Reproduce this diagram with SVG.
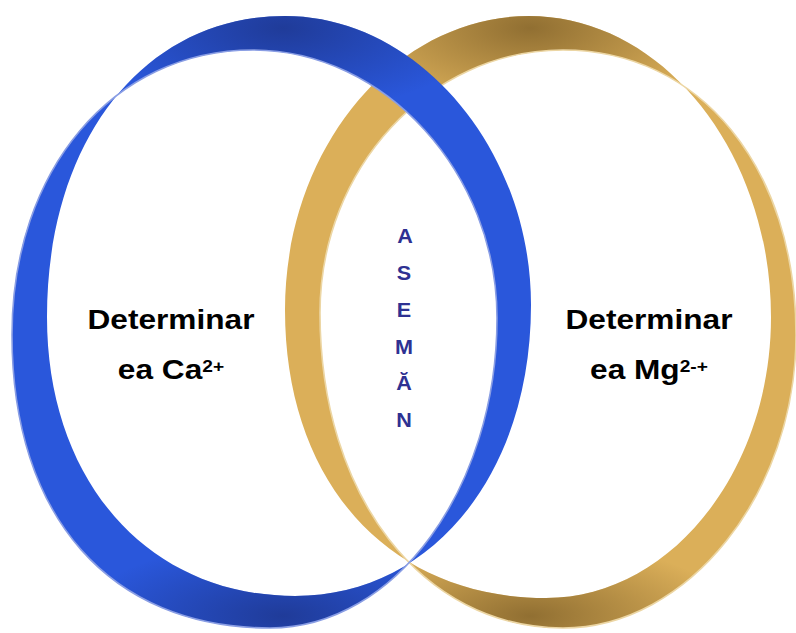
<svg xmlns="http://www.w3.org/2000/svg" width="796" height="633" viewBox="0 0 796 633">
<style>
.lbl{font-family:"Liberation Sans",Arial,sans-serif;font-weight:bold;fill:#000;font-size:28px;text-anchor:middle}
.sup{font-size:17px}
.mid{font-family:"Liberation Sans",Arial,sans-serif;font-weight:bold;fill:#2E3192;font-size:20px;text-anchor:middle}
.edgeB{fill:none;stroke:#8A9EE4;stroke-width:1.6}
.edgeG{fill:none;stroke:#ECD6A4;stroke-width:1.6}
</style>
<defs>
<path id="blueRing" fill-rule="evenodd" d="M12,335 C12,169.7 113.2,50 253,50 C384.8,50 497,173.3 497,318 C497,488.5 394.9,628 270,628 C110,628 12,516.7 12,335 Z M47,317 C47,139.4 144.6,16 285,16 C417.8,16 531,148.9 531,305 C531,473.8 431.9,596 295,596 C148.7,596 47,481.6 47,317 Z"/>
<path id="goldRing" fill-rule="evenodd" d="M285,310 C285,148.3 394.8,16 529,16 C662.1,16 771,151.5 771,317 C771,471.6 669.8,598 546,598 C389.4,598 285,482.8 285,310 Z M320,313 C320,168.3 429.3,50 563,50 C699.9,50 796,166.8 796,335 C796,493.2 688.3,628 563,628 C422.1,628 320,495.7 320,313 Z"/>
<radialGradient id="bTop" gradientUnits="userSpaceOnUse" cx="0" cy="0" r="1" gradientTransform="translate(283,28) scale(200,85)">
<stop offset="0" stop-color="#1C3283" stop-opacity="0.75"/>
<stop offset="1" stop-color="#1C3283" stop-opacity="0"/>
</radialGradient>
<radialGradient id="bBot" gradientUnits="userSpaceOnUse" cx="0" cy="0" r="1" gradientTransform="translate(283,616) scale(200,75)">
<stop offset="0" stop-color="#1C3283" stop-opacity="0.75"/>
<stop offset="1" stop-color="#1C3283" stop-opacity="0"/>
</radialGradient>
<radialGradient id="gTop" gradientUnits="userSpaceOnUse" cx="0" cy="0" r="1" gradientTransform="translate(530,28) scale(200,85)">
<stop offset="0" stop-color="#7E5F28" stop-opacity="0.8"/>
<stop offset="1" stop-color="#7E5F28" stop-opacity="0"/>
</radialGradient>
<radialGradient id="gBot" gradientUnits="userSpaceOnUse" cx="0" cy="0" r="1" gradientTransform="translate(530,616) scale(200,75)">
<stop offset="0" stop-color="#7E5F28" stop-opacity="0.8"/>
<stop offset="1" stop-color="#7E5F28" stop-opacity="0"/>
</radialGradient>
</defs>
<rect width="796" height="633" fill="#fff"/>
<g id="ring-mg">
<use href="#goldRing" fill="#DBAF59"/>
<use href="#goldRing" fill="url(#gTop)"/>
<use href="#goldRing" fill="url(#gBot)"/>
<path class="edgeG" d="M320,313 C320,168.3 429.3,50 563,50 C699.9,50 796,166.8 796,335 C796,493.2 688.3,628 563,628 C422.1,628 320,495.7 320,313 Z"/>
</g>
<g id="ring-ca">
<use href="#blueRing" fill="#2A57DB"/>
<use href="#blueRing" fill="url(#bTop)"/>
<use href="#blueRing" fill="url(#bBot)"/>
<path class="edgeB" d="M12,335 C12,169.7 113.2,50 253,50 C384.8,50 497,173.3 497,318 C497,488.5 394.9,628 270,628 C110,628 12,516.7 12,335 Z"/>
</g>
<g id="label-ca" transform="translate(171,0) scale(1.13,1)">
<text class="lbl" x="0" y="329">Determinar</text>
<text class="lbl" x="0" y="379">ea Ca<tspan class="sup" dy="-7">2+</tspan></text>
</g>
<g id="label-mg" transform="translate(649,0) scale(1.13,1)">
<text class="lbl" x="0" y="329">Determinar</text>
<text class="lbl" x="0" y="379">ea Mg<tspan class="sup" dy="-7">2-+</tspan></text>
</g>
<g id="label-asemanare" transform="translate(404,0) scale(1.08,1)">
<text class="mid" x="1" y="243">A</text>
<text class="mid" x="0" y="280">S</text>
<text class="mid" x="0" y="317">E</text>
<text class="mid" x="0" y="354">M</text>
<text class="mid" x="0" y="390">Ă</text>
<text class="mid" x="0" y="427">N</text>
</g>
</svg>
